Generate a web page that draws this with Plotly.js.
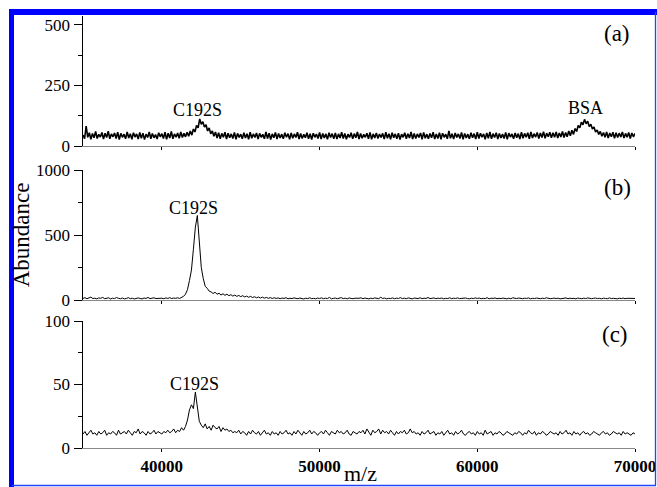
<!DOCTYPE html>
<html>
<head>
<meta charset="utf-8">
<script src="https://cdn.plot.ly/plotly-3.0.1.min.js"></script>
<style>html,body{margin:0;padding:0;background:#fff;}#chart{width:657px;height:487px;}</style>
</head>
<body>
<div id="chart"></div>
<script>
// m/z grid: start and spacing of the sampled spectra
const mzStart = 35000;
const mzStepA = 100;
const mzStepBC = 125;

// Panel (a) abundance values
const abundA = [
45,30,82,36,55,28,52,34,60,31,48,37,56,29,53,35,61,30,50,38,
54,31,57,27,52,36,49,30,58,33,51,28,55,37,50,29,56,32,53,27,
49,35,58,30,52,34,47,29,55,38,51,31,57,28,53,33,60,30,50,36,
54,32,58,35,52,38,57,40,62,45,70,58,85,75,112,90,100,78,88,62,
75,50,62,40,58,33,55,30,52,36,57,29,53,34,50,31,56,28,52,35,
49,30,55,33,51,28,57,32,50,35,54,29,52,36,48,30,58,31,53,27,
50,34,56,29,52,33,49,30,55,36,51,28,54,32,50,35,57,29,52,31,
48,34,55,30,51,27,53,36,49,31,56,29,52,33,50,28,55,35,51,30,
54,29,50,33,57,31,52,28,49,35,55,30,51,34,58,29,52,32,48,36,
53,30,56,28,50,33,54,31,49,35,52,29,57,32,51,28,55,34,50,30,
53,27,49,36,55,30,51,33,58,29,52,31,50,35,54,28,56,32,49,30,
52,34,57,29,50,31,55,28,53,36,49,30,62,32,51,29,54,35,50,31,
56,28,52,33,49,30,55,34,51,29,57,31,53,36,50,28,54,32,58,30,
51,35,55,29,52,33,49,31,56,28,53,37,50,30,54,34,51,29,57,32,
52,36,55,30,58,33,51,37,56,31,54,35,59,32,53,38,57,34,55,36,
58,33,54,37,60,35,56,38,62,42,65,48,72,60,85,75,98,88,110,92,
102,80,90,70,78,58,66,48,60,40,56,36,58,33,54,38,57,32,55,35,
53,37,58,33,52,36,56,31,54,38,52
];

// Panel (b) abundance values
const abundB = [
12,18,10,15,22,11,14,9,16,13,20,10,12,17,8,14,11,19,13,10,
15,9,12,18,10,14,8,13,16,11,9,15,12,20,10,14,17,11,13,16,
14,10,16,12,18,11,15,13,17,12,20,28,45,80,150,230,390,560,650,440,
250,165,105,90,68,62,50,60,44,52,38,48,36,45,33,41,30,38,28,35,
26,33,24,30,21,28,19,25,17,23,15,22,14,20,13,18,12,17,12,16,
10,15,12,18,9,14,11,16,13,10,15,12,8,14,11,17,10,13,9,15,
12,16,10,14,11,20,9,13,15,10,12,18,11,14,9,16,12,10,14,11,
13,17,10,15,12,9,14,11,16,13,10,21,12,15,9,13,11,16,10,14,
12,18,11,14,10,16,13,9,15,12,11,17,10,14,12,19,11,13,16,10,
14,12,15,9,13,11,17,10,14,12,16,11,13,10,15,12,9,14,11,16,
12,15,10,13,11,18,9,14,12,16,10,13,11,15,12,9,14,10,17,12,
11,15,13,10,14,12,16,9,13,11,15,12,10,14,11,17,13,10,12,15,
11,14,9,13,12,16,10,14,11,13,9,15,12,10,14,11,16,12,10,13,
15,11,13,9,14,12,10,16,11,13,12,9,14,11,15,10,13,12,14,11,12
];

// Panel (c) abundance values
const abundC = [
11,13,10,12,14,11,12,10,13,11,12,14,10,12,11,13,12,10,14,11,
12,13,11,14,12,10,13,12,15,11,13,12,10,13,11,12,14,11,13,12,
11,13,12,14,12,13,15,12,14,13,16,14,17,22,30,34,31,44,30,21,
18,16,19,15,17,14,18,16,15,17,13,16,14,15,13,14,12,13,12,14,
11,13,12,10,13,11,14,12,11,13,10,12,14,11,12,10,13,11,12,10,
13,11,12,14,11,12,10,13,11,14,12,10,13,11,12,14,11,13,12,10,
12,13,11,14,12,10,13,12,11,14,12,13,11,12,14,11,10,13,12,11,
13,12,14,11,15,12,10,14,12,13,15,11,14,12,13,11,14,12,10,13,
11,13,12,14,11,12,15,12,13,11,12,10,13,11,12,14,11,12,13,10,
12,11,13,10,12,14,11,12,10,13,11,12,14,11,10,12,13,11,12,10,
13,11,12,10,14,11,12,13,10,12,11,13,12,10,11,13,12,11,10,12,
11,13,12,10,12,11,14,12,11,13,10,12,11,13,12,10,11,13,12,11,
12,10,13,11,12,14,11,12,10,13,11,12,10,12,13,11,12,10,11,13,
12,11,10,12,13,11,12,10,11,13,12,11,12,10,13,11,12,11,10,12,11
];

const xTicks = [40000, 50000, 60000, 70000];
const panelLabels = ['(a)', '(b)', '(c)'];
const peakLabels = ['C192S', 'BSA'];
const xTitle = 'm/z';
const yTitle = 'Abundance';

const W = 657, H = 487;
const px = v => v / W;
const py = v => 1 - v / H;
const serif = '"Liberation Serif", "Times New Roman", serif';

const traces = [
  {x0: mzStart, dx: mzStepA, y: abundA, xaxis: 'x3', yaxis: 'y3', type: 'scatter', mode: 'lines',
   line: {color: '#000', width: 1.6}, hoverinfo: 'skip'},
  {x0: mzStart, dx: mzStepBC, y: abundB, xaxis: 'x2', yaxis: 'y2', type: 'scatter', mode: 'lines',
   line: {color: '#000', width: 1}, hoverinfo: 'skip'},
  {x0: mzStart, dx: mzStepBC, y: abundC, xaxis: 'x', yaxis: 'y', type: 'scatter', mode: 'lines',
   line: {color: '#000', width: 1}, hoverinfo: 'skip'}
];

const xDom = [px(83), px(635)];
function xAxis(anchor, labels) {
  return {
    domain: xDom, range: [35000, 70000], anchor: anchor,
    tickvals: xTicks, ticktext: xTicks.map(String), ticks: 'outside', ticklen: 3, tickwidth: 1, tickcolor: '#000',
    showticklabels: labels, showline: true, linecolor: '#888', linewidth: 1,
    showgrid: false, zeroline: false, ticklabelstandoff: 0,
    tickfont: {family: serif, size: 17, color: '#000', weight: 'bold'}
  };
}
function yAxis(anchor, dom, range, dtick, minorDtick) {
  return {
    domain: dom, range: range, anchor: anchor, tick0: 0, dtick: dtick,
    ticks: 'outside', ticklen: 8, tickwidth: 1, tickcolor: '#000',
    minor: {ticks: 'outside', ticklen: 4, dtick: minorDtick, tick0: 0, tickcolor: '#000', tickwidth: 1},
    showline: true, linecolor: '#000', linewidth: 1.5,
    showgrid: false, zeroline: false,
    tickfont: {family: serif, size: 17, color: '#000'}
  };
}

function note(text, x, y, size, angle) {
  return {text: text, x: px(x), y: py(y), xref: 'paper', yref: 'paper', showarrow: false,
          textangle: angle || 0,
          xanchor: 'center', yanchor: 'middle', font: {family: serif, size: size, color: '#000'}};
}

const layout = {
  width: W, height: H,
  margin: {l: 0, r: 0, t: 0, b: 0},
  paper_bgcolor: '#fff', plot_bgcolor: 'rgba(0,0,0,0)',
  showlegend: false,
  font: {family: serif, color: '#000'},
  xaxis: xAxis('y', true),
  xaxis2: xAxis('y2', false),
  xaxis3: xAxis('y3', false),
  yaxis: yAxis('x', [py(448), py(321)], [0, 100], 50, 25),
  yaxis2: Object.assign(yAxis('x2', [py(300), py(170)], [0, 1000], 500, 250),
    {title: {text: yTitle, font: {family: serif, size: 23, color: '#000'}, standoff: 0}}),
  yaxis3: yAxis('x3', [py(146), py(16)], [0, 537], 250, 125),
  annotations: [
    note(xTitle, 360, 473.5, 22),
    note(panelLabels[0], 617, 33, 23),
    note(panelLabels[1], 617, 187, 23),
    note(panelLabels[2], 615, 334, 23),
    note(peakLabels[0], 197, 110, 18),
    note(peakLabels[1], 585, 108, 18),
    note(peakLabels[0], 193, 208, 18),
    note(peakLabels[0], 194, 384, 18)
  ],
  shapes: [
    {type: 'rect', xref: 'paper', yref: 'paper', x0: px(9), x1: 1, y0: py(15), y1: py(9), fillcolor: '#0000ff', line: {width: 0}},
    {type: 'rect', xref: 'paper', yref: 'paper', x0: px(9), x1: px(14), y0: 0, y1: py(9), fillcolor: '#0000ff', line: {width: 0}},
    {type: 'line', xref: 'paper', yref: 'paper', x0: px(655.5), x1: px(655.5), y0: py(485.5), y1: py(12), line: {color: '#2244ff', width: 1.3}},
    {type: 'line', xref: 'paper', yref: 'paper', x0: px(12), x1: px(656), y0: py(485.5), y1: py(485.5), line: {color: '#2244ff', width: 1.3}}
  ]
};

Plotly.newPlot('chart', traces, layout, {staticPlot: true, displayModeBar: false});
</script>
</body>
</html>
